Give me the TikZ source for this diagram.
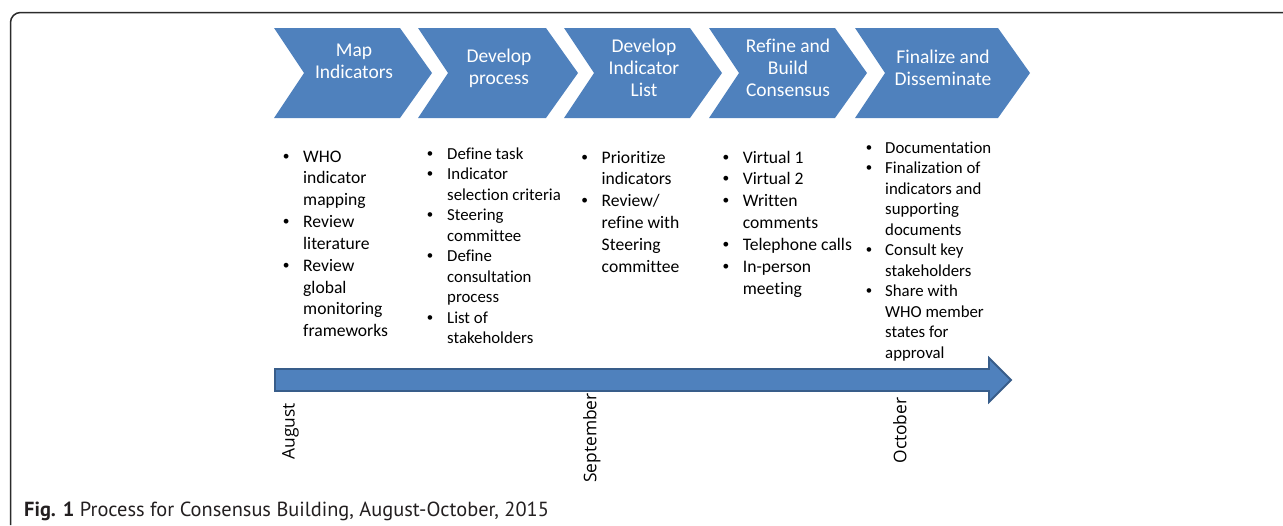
\documentclass[tikz,border=0pt]{standalone}
\usepackage{fontspec}
\setmainfont{Carlito}[Ligatures=NoCommon]
\newfontfamily\monthfont{Open Sans}
\newfontfamily\capfont{PT Sans}
\newfontfamily\bulfont{Liberation Sans}
\newcommand{\bul}{{\bulfont\textbullet}}
\definecolor{chev}{HTML}{4F81BD}
\definecolor{chevline}{HTML}{385D8A}
\definecolor{framecol}{HTML}{2B2B2B}
\definecolor{captext}{HTML}{231F20}
\begin{document}
\begin{tikzpicture}[x=1pt,y=-1pt,
  chevtext/.style={text=white, align=center, inner sep=0pt, font=\fontsize{19.5}{22}\selectfont},
  biglist/.style={anchor=base west, inner sep=0pt, font=\fontsize{17.6}{21.85}\selectfont},
  smalllist/.style={anchor=base west, inner sep=0pt, font=\fontsize{16.8}{20.5}\selectfont},
  month/.style={rotate=90, anchor=north, inner sep=0pt, font=\monthfont\fontsize{17.4}{20}\selectfont}]
\useasboundingbox (0,0) rectangle (1283,525);
% frame
\draw[framecol, line width=1.5pt, rounded corners=10pt] (10.5,525) -- (10.5,12.5) -- (1283,12.5);
% chevrons
\foreach \L/\R in {274/400, 418/546, 564/690, 709/835, 855/998}
  \fill[chev] (\L,28) -- (\R,28) -- (\R+32,73) -- (\R,118) -- (\L,118) -- (\L+30,73) -- cycle;
\node[chevtext] (c1) at (354,61) {Map\\Indicators};
\node[chevtext] (c2) at (499,68) {Develop\\process};
\node[chevtext] (c3) at (644,68) {Develop\\Indicator\\List};
\node[chevtext] (c4) at (788,68) {Refine and\\Build\\Consensus};
\node[chevtext] (c5) at (943,68) {Finalize and\\Disseminate};
% bullet lists
\node[biglist] (l1) at (283,162) {\begin{tabular}[t]{@{}p{20pt}@{}l@{}}
\bul & WHO\\ & indicator\\ & mapping\\
\bul & Review\\ & literature\\
\bul & Review\\ & global\\ & monitoring\\ & frameworks
\end{tabular}};
\node[smalllist] (l2) at (427,159) {\begin{tabular}[t]{@{}p{20pt}@{}l@{}}
\bul & Define task\\
\bul & Indicator\\ & selection criteria\\
\bul & Steering\\ & committee\\
\bul & Define\\ & consultation\\ & process\\
\bul & List of\\ & stakeholders
\end{tabular}};
\node[biglist] (l3) at (581.5,163) {\begin{tabular}[t]{@{}p{20pt}@{}l@{}}
\bul & Prioritize\\ & indicators\\
\bul & Review/\\ & refine with\\ & Steering\\ & committee
\end{tabular}};
\node[biglist] (l4) at (722.7,163) {\begin{tabular}[t]{@{}p{20pt}@{}l@{}}
\bul & Virtual 1\\
\bul & Virtual 2\\
\bul & Written\\ & comments\\
\bul & Telephone calls\\
\bul & In-person\\ & meeting
\end{tabular}};
\node[smalllist] (l5) at (866,153) {\begin{tabular}[t]{@{}p{19pt}@{}l@{}}
\bul & Documentation\\
\bul & Finalization of\\ & indicators and\\ & supporting\\ & documents\\
\bul & Consult key\\ & stakeholders\\
\bul & Share with\\ & WHO member\\ & states for\\ & approval
\end{tabular}};
% timeline arrow
\draw[chevline, fill=chev, line width=1.8pt, line join=miter]
  (275,369) -- (989,369) -- (989,358) -- (1011,380) -- (989,402) -- (989,391) -- (275,391) -- cycle;
% months
\node[month] (m1) at (282,431.5) {August};
\node[month] (m2) at (583,438) {September};
\node[month] (m3) at (893,430.5) {October};
% caption
\node[anchor=base west, inner sep=0pt, text=captext, font=\capfont\fontsize{20.4}{24}\selectfont] (cap) at (24,516)
  {\textbf{Fig. 1} Process for Consensus Building, August-October, 2015};
\end{tikzpicture}
\end{document}
